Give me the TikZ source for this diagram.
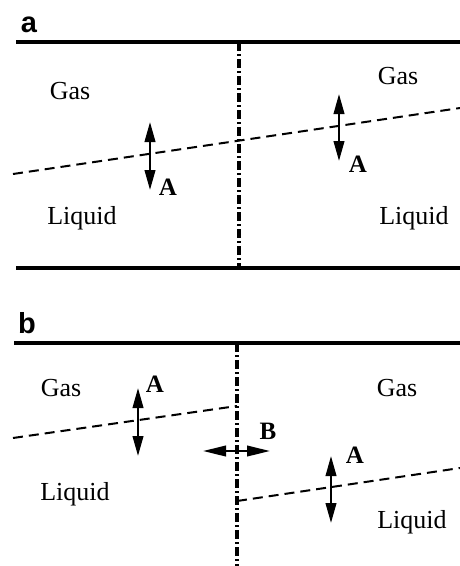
\documentclass[tikz,border=0pt]{standalone}
\usepackage{fontspec}
\setmainfont{Liberation Serif}
\setsansfont{Liberation Sans}
\usetikzlibrary{arrows.meta}

\begin{document}
\begin{tikzpicture}[x=1pt,y=-1pt,
    wall/.style={line width=4.5pt},
    axis/.style={line width=3.8pt, dash pattern=on 9pt off 3pt on 2pt off 3pt},
    iface/.style={line width=2pt, dash pattern=on 10pt off 6pt},
    wave/.style={line width=2.4pt, {Triangle[length=20pt,width=10.5pt]}-{Triangle[length=20pt,width=10.5pt]}},
    slip/.style={line width=2.4pt, {Triangle[length=23pt,width=10.5pt]}-{Triangle[length=23pt,width=10.5pt]}},
    lbl/.style={anchor=base, inner sep=0pt, font=\fontsize{26}{28}\selectfont},
    tag/.style={anchor=base, inner sep=0pt, font=\fontsize{25}{28}\selectfont\bfseries},
    panel/.style={anchor=base, inner sep=0pt, font=\fontsize{29}{32}\selectfont\sffamily\bfseries}]
    \useasboundingbox (0,0) rectangle (460,566);

    % panel a
    \node[panel] (pa) at (29,32) {a};
    \coordinate (atl) at (16,42);  \coordinate (atr) at (460,42);
    \coordinate (abl) at (16,268); \coordinate (abr) at (460,268);
    \coordinate (aax1) at (239,42); \coordinate (aax2) at (239,268);
    \coordinate (aif1) at (13,174); \coordinate (aif2) at (460,108);
    \coordinate (aw1) at (150,122); \coordinate (aw2) at (150,190);
    \coordinate (aw3) at (339,94);  \coordinate (aw4) at (339,161);
    \draw[wall] (atl) -- (atr);
    \draw[wall] (abl) -- (abr);
    \draw[axis] (aax1) -- (aax2);
    \draw[iface] (aif1) -- (aif2);
    \draw[wave] (aw1) -- (aw2);
    \draw[wave] (aw3) -- (aw4);
    \node[lbl] (agasl) at (70,99) {Gas};
    \node[lbl] (agasr) at (398,84) {Gas};
    \node[lbl] (aliql) at (82,224) {Liquid};
    \node[lbl] (aliqr) at (414,224) {Liquid};
    \node[tag] (aal) at (168,195) {A};
    \node[tag] (aar) at (358,172) {A};

    % panel b
    \node[panel] (pb) at (27,333) {b};
    \coordinate (btl) at (14,343); \coordinate (btr) at (460,343);
    \coordinate (bax1) at (237,343); \coordinate (bax2) at (237,566);
    \coordinate (bif1) at (13,438); \coordinate (bif2) at (237,406);
    \coordinate (bif3) at (237,501); \coordinate (bif4) at (460,468);
    \coordinate (bw1) at (138,388); \coordinate (bw2) at (138,456);
    \coordinate (bw3) at (331,456); \coordinate (bw4) at (331,523);
    \coordinate (bs1) at (203,451); \coordinate (bs2) at (270,451);
    \draw[wall] (btl) -- (btr);
    \draw[axis] (bax1) -- (bax2);
    \draw[iface] (bif1) -- (bif2);
    \draw[iface] (bif3) -- (bif4);
    \draw[wave] (bw1) -- (bw2);
    \draw[wave] (bw3) -- (bw4);
    \draw[slip] (bs1) -- (bs2);
    \node[lbl] (bgasl) at (61,396) {Gas};
    \node[lbl] (bgasr) at (397,396) {Gas};
    \node[lbl] (bliql) at (75,500) {Liquid};
    \node[lbl] (bliqr) at (412,528) {Liquid};
    \node[tag] (bal) at (155,392) {A};
    \node[tag] (bar) at (355,463) {A};
    \node[tag] (bb) at (268,439) {B};
\end{tikzpicture}
\end{document}
